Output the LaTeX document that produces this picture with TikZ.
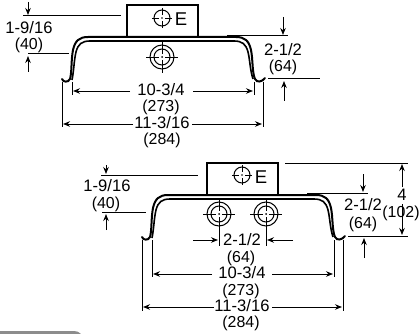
\documentclass[tikz,border=0pt]{standalone}
\usepackage{fontspec}
\setmainfont{Liberation Sans}
\usetikzlibrary{arrows.meta}
\tikzset{
  x=1pt,y=-1pt,
  dim/.style={line width=0.9pt,-{Stealth[length=7pt,width=5.5pt]}},
  ext/.style={line width=1pt},
  lab/.style={inner sep=0pt,font=\fontsize{16.6}{17}\selectfont},
  plab/.style={inner sep=0pt,font=\fontsize{15.9}{16}\selectfont},
  elab/.style={inner sep=0pt,font=\fontsize{18.5}{19}\selectfont},
  body/.style={line width=2pt},
  thin target/.style={line width=1pt}
}
\newcommand{\channel}[2]{%
  \begin{scope}[shift={(#1,#2)}]
    \draw[line width=2pt,line cap=round] (62,79) .. controls (63,82) and (68,83) .. (70,79)
      .. controls (72,72) and (71,60) .. (73,50) .. controls (75,41) and (79,37) .. (88,37)
      -- (236,37) .. controls (245,37) and (249,41) .. (251,50)
      .. controls (253,60) and (252,72) .. (255,79) .. controls (257,83) and (262,82) .. (265,78);
    \draw[line width=1.6pt] (72,80) .. controls (74,70) and (74,60) .. (76,52) .. controls (78,44) and (82,41) .. (90,41)
      -- (234,41) .. controls (242,41) and (246,44) .. (248,52) .. controls (250,60) and (250,70) .. (253,79);
    \draw[body] (127,37) -- (127,5) -- (198,5) -- (198,37);
  \end{scope}}
\newcommand{\bigtarget}[2]{%
  \draw[thin target] (#1,#2) circle[radius=12] (#1,#2) circle[radius=8];
  \fill (#1,#2) circle[radius=1];
  \draw[line width=0.9pt] (#1-16,#2) -- (#1-3,#2) (#1+3,#2) -- (#1+16,#2) (#1,#2-16) -- (#1,#2-3) (#1,#2+3) -- (#1,#2+16);}
\newcommand{\smalltarget}[2]{%
  \draw[thin target] (#1,#2) circle[radius=8];
  \fill (#1,#2) circle[radius=0.9];
  \draw[line width=0.8pt] (#1-10,#2) -- (#1-3,#2) (#1+3,#2) -- (#1+10,#2) (#1,#2-10) -- (#1,#2-3) (#1,#2+3) -- (#1,#2+10);}
\begin{document}
\begin{tikzpicture}
\useasboundingbox (0,0) rectangle (420,334);
% top unit
\channel{0}{0}
\smalltarget{162}{18}
\node[elab] (e1) at (181,19) {E};
\bigtarget{162}{57}
\draw[ext] (23,16) -- (121,16) (28,54) -- (69,54);
\draw[dim] (28,2) -- (28,15);
\draw[dim] (28,72) -- (28,56);
\node[lab] (a1) at (29,28) {1-9/16};
\node[plab] (a2) at (29,45) {(40)};
\draw[ext] (227,36) -- (288,36) (268,79) -- (320,79);
\draw[dim] (283,17) -- (283,35);
\draw[dim] (284,101) -- (284,81);
\node[lab] (b1) at (283,50) {2-1/2};
\node[plab] (b2) at (283,67) {(64)};
\draw[ext] (72,82) -- (72,95) (254,82) -- (254,95) (62,82) -- (62,127) (263,82) -- (263,127);
\draw[dim] (130,91) -- (73,91);
\draw[dim] (193,91) -- (253,91);
\node[lab] (c1) at (161,90) {10-3/4};
\node[plab] (c2) at (161,107) {(273)};
\draw[dim] (133,124) -- (63,124);
\draw[dim] (192,124) -- (262,124);
\node[lab] (d1) at (162,123) {11-3/16};
\node[plab] (d2) at (162,140) {(284)};
% bottom unit
\channel{80}{158}
\smalltarget{242}{175}
\node[elab] (e2) at (261,177) {E};
\bigtarget{219}{214}
\bigtarget{266}{214}
\draw[ext] (219,230) -- (219,246) (266,230) -- (266,246);
\draw[dim] (193,240) -- (218,240);
\draw[dim] (293,240) -- (267,240);
\node[lab] (f1) at (242,240) {2-1/2};
\node[plab] (f2) at (241,258) {(64)};
\draw[ext] (101,175) -- (198,175) (102,212) -- (146,212);
\draw[dim] (106,165) -- (106,174);
\draw[dim] (106,230) -- (106,214);
\node[lab] (g1) at (107,186) {1-9/16};
\node[plab] (g2) at (106,204) {(40)};
\draw[ext] (285,163) -- (408,163) (307,193) -- (368,193) (348,236) -- (408,236);
\draw[dim] (363,174) -- (363,192);
\draw[dim] (364,258) -- (364,238);
\node[lab] (h1) at (363,205) {2-1/2};
\node[plab] (h2) at (363,224) {(64)};
\draw[dim] (402,187) -- (402,164);
\draw[dim] (402,204) -- (402,235);
\node[lab] (i1) at (402,195) {4};
\node[plab] (i2) at (401,213) {(102)};
\draw[ext] (152,240) -- (152,277) (334,240) -- (334,277) (142,240) -- (142,311) (343,240) -- (343,311);
\draw[dim] (212,274) -- (153,274);
\draw[dim] (272,274) -- (333,274);
\node[lab] (j1) at (242,273) {10-3/4};
\node[plab] (j2) at (241,291) {(273)};
\draw[dim] (214,307) -- (143,307);
\draw[dim] (272,307) -- (342,307);
\node[lab] (k1) at (242,306) {11-3/16};
\node[plab] (k2) at (241,323) {(284)};
% grey tab at the bottom edge
\fill[gray!90] (0,334) -- (0,331) -- (74,331) .. controls (77,331) and (79,332) .. (81,334) -- cycle;
\end{tikzpicture}
\end{document}
